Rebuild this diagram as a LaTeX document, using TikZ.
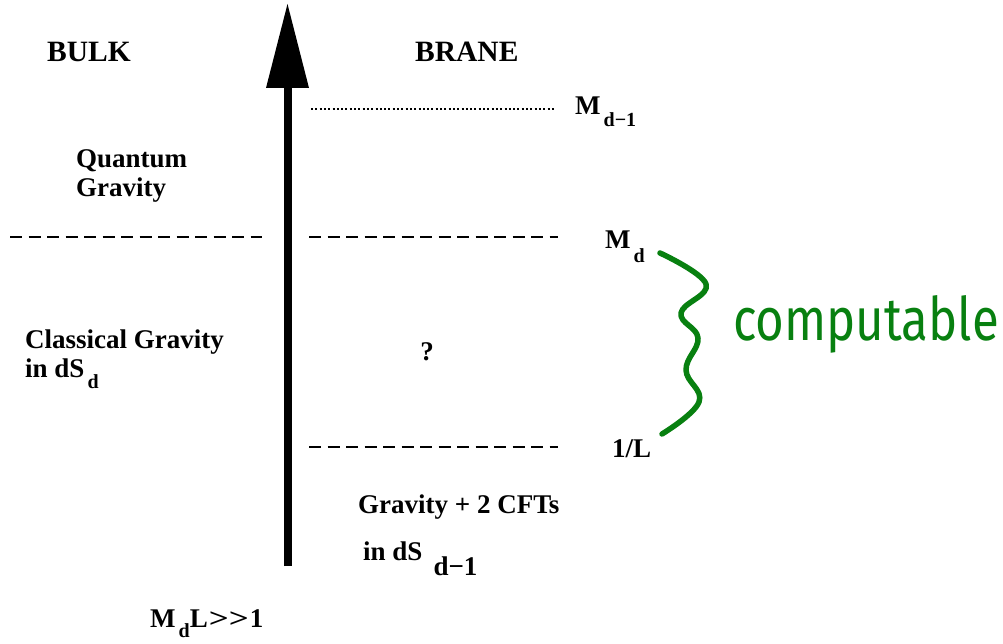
\documentclass[tikz,border=0pt]{standalone}
\usepackage{fontspec}
\usepackage{graphicx}
\setmainfont{Liberation Serif}
\newfontfamily\handfont{Fira Sans}
\usetikzlibrary{arrows.meta}
\definecolor{penGreen}{RGB}{8,128,16}
\newcommand{\lowsub}[2]{\raisebox{-#1pt}{\fontsize{20}{20}\selectfont #2}}
\newcommand{\widegt}{\scalebox{1.3}[1]{>}}
\tikzset{
  every node/.style={font=\bfseries\fontsize{27}{29}\selectfont, inner sep=0pt},
  head/.style={font=\bfseries\fontsize{29.5}{32}\selectfont},
  level/.style={line width=1.6pt, dash pattern=on 12pt off 6.5pt},
  top level/.style={line width=1.2pt, dash pattern=on 2pt off 2.3pt},
  axis/.style={line width=8pt, -{Triangle[length=84pt,width=43pt,line width=0pt]}},
  pen/.style={draw=penGreen, line width=5.5pt, line cap=round, line join=round},
  hand/.style={font=\handfont\fontsize{60}{60}\selectfont, text=penGreen}
}

\begin{document}
\begin{tikzpicture}[x=1pt,y=-1pt]
  \useasboundingbox (0,0) rectangle (1003,644);

  % energy axis
  \coordinate (axisbot) at (287.5,566);
  \coordinate (axistop) at (287.5,4);
  \draw[axis] (axisbot) -- (axistop);

  \node[head, anchor=base west] (bulk) at (47,62) {BULK};
  \node[head, anchor=base west] (brane) at (415,62) {BRANE};

  % scales
  \coordinate (s1a) at (311,109);
  \coordinate (s1b) at (556,109);
  \draw[top level] (s1a) -- (s1b);
  \coordinate (s2a) at (10,237);
  \coordinate (s2b) at (262,237);
  \coordinate (s2c) at (309,237);
  \coordinate (s2d) at (558,237);
  \draw[level] (s2a) -- (s2b);
  \draw[level] (s2c) -- (s2d);
  \coordinate (s3a) at (309,447);
  \coordinate (s3b) at (558,447);
  \draw[level] (s3a) -- (s3b);

  \node[anchor=base west] (mdm) at (575,115) {M\hspace{3pt}\lowsub{12}{d−1}};
  \node[anchor=base west] (md) at (605,248) {M\hspace{3pt}\lowsub{14}{d}};
  \node[anchor=base west] (invl) at (612,457) {1/L};

  \node[anchor=base west] (qg1) at (76,168) {Quantum};
  \node[anchor=base west] (qg2) at (76,197) {Gravity};
  \node[anchor=base west] (cg1) at (25,348) {Classical Gravity};
  \node[anchor=base west] (cg2) at (25,377) {in dS\hspace{3pt}\lowsub{11}{d}};
  \node (what) at (427,352) {?};
  \node[anchor=base west] (cft1) at (358,513) {Gravity + 2 CFTs};
  \node[anchor=base west] (cft2) at (363,560) {in dS\hspace{11pt}\raisebox{-15pt}{d−1}};
  \node[anchor=base west] (cond) at (150,627)
    {M\hspace{3pt}\lowsub{10}{d}L\kern1pt\widegt\widegt\kern1pt1};

  % handwritten note
  \draw[pen] plot[smooth, tension=0.7] coordinates
    {(660,253) (706,284) (681,313) (698,338) (686,370) (699,402) (662,434)};
  \node[hand, anchor=base west] (comp) at (733,340) {\scalebox{0.82}[1]{computable}};
\end{tikzpicture}
\end{document}
